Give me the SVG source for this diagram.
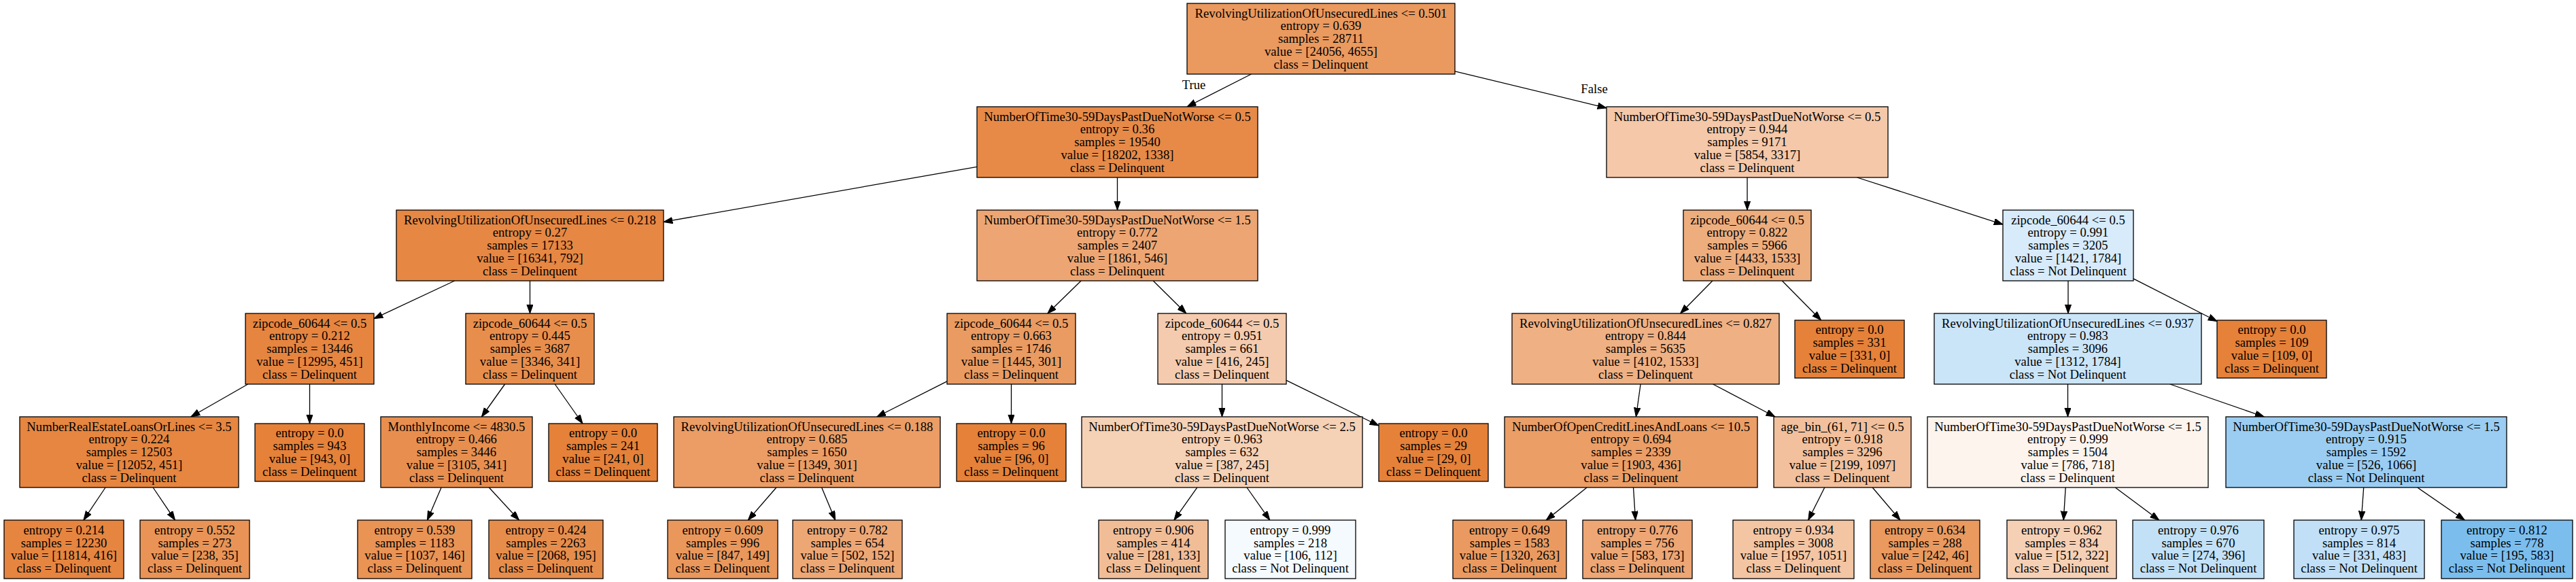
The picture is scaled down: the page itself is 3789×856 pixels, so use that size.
<svg xmlns="http://www.w3.org/2000/svg" width="3789" height="856" viewBox="0 0 3789 856">
<defs>
<style>
.b{stroke:#000;stroke-width:1.3}
.t{font-family:"Liberation Serif","Times New Roman",serif;font-size:18.67px;text-anchor:middle;fill:#000}
.e{stroke:#000;stroke-width:1.3;fill:none;marker-end:url(#ah)}
.lb{font-family:"Liberation Serif","Times New Roman",serif;font-size:18.67px;text-anchor:middle;fill:#000}
</style>
<marker id="ah" markerUnits="userSpaceOnUse" markerWidth="15" markerHeight="11" refX="13.3" refY="4.7" orient="auto">
<path d="M0,0 L13.3,4.7 L0,9.4 Z" fill="#000" stroke="#000" stroke-width="1"/>
</marker>
</defs>
<rect width="3789" height="856" fill="#fff"/>
<g id="edges">
<line class="e" x1="1840.5" y1="109" x2="1746" y2="157"/>
<line class="e" x1="2140" y1="104.8" x2="2363" y2="158.8"/>
<line class="e" x1="1437" y1="245.3" x2="976" y2="326.4"/>
<line class="e" x1="1643.5" y1="261" x2="1643.5" y2="309"/>
<line class="e" x1="2570" y1="261" x2="2570" y2="309"/>
<line class="e" x1="2731.5" y1="261" x2="2946" y2="330.1"/>
<line class="e" x1="668.7" y1="413" x2="550" y2="468.7"/>
<line class="e" x1="779.5" y1="413" x2="779.5" y2="461"/>
<line class="e" x1="1590.1" y1="413" x2="1540.9" y2="461"/>
<line class="e" x1="1696.2" y1="413" x2="1744.8" y2="461"/>
<line class="e" x1="2518.9" y1="413" x2="2471.6" y2="461"/>
<line class="e" x1="2621.3" y1="413" x2="2678.6" y2="471"/>
<line class="e" x1="3042" y1="413" x2="3042" y2="461"/>
<line class="e" x1="3138" y1="409.9" x2="3261" y2="472.5"/>
<line class="e" x1="364.7" y1="565" x2="280.8" y2="613"/>
<line class="e" x1="455.5" y1="565" x2="455.5" y2="623"/>
<line class="e" x1="742.6" y1="565" x2="708.4" y2="613"/>
<line class="e" x1="816.2" y1="565" x2="857" y2="623"/>
<line class="e" x1="1393" y1="560.8" x2="1289.8" y2="613"/>
<line class="e" x1="1487.5" y1="565" x2="1487.5" y2="623"/>
<line class="e" x1="1797.5" y1="565" x2="1797.5" y2="613"/>
<line class="e" x1="1892" y1="559.3" x2="2028" y2="626"/>
<line class="e" x1="2413.1" y1="565" x2="2406.4" y2="613"/>
<line class="e" x1="2519.5" y1="565" x2="2611" y2="613"/>
<line class="e" x1="3041.5" y1="565" x2="3041.5" y2="613"/>
<line class="e" x1="3191.7" y1="565" x2="3330.3" y2="613"/>
<line class="e" x1="155.1" y1="717" x2="122.9" y2="765"/>
<line class="e" x1="225.1" y1="717" x2="257.5" y2="765"/>
<line class="e" x1="649.1" y1="717" x2="628.5" y2="765"/>
<line class="e" x1="719.3" y1="717" x2="763.5" y2="765"/>
<line class="e" x1="1141.9" y1="717" x2="1100.3" y2="765"/>
<line class="e" x1="1208.6" y1="717" x2="1228.6" y2="765"/>
<line class="e" x1="1760.8" y1="717" x2="1726.9" y2="765"/>
<line class="e" x1="1834" y1="717" x2="1867.8" y2="765"/>
<line class="e" x1="2334.1" y1="717" x2="2274.2" y2="765"/>
<line class="e" x1="2402.5" y1="717" x2="2405.6" y2="765"/>
<line class="e" x1="2683.8" y1="717" x2="2659.7" y2="765"/>
<line class="e" x1="2754.2" y1="717" x2="2795" y2="765"/>
<line class="e" x1="3038.2" y1="717" x2="3035.2" y2="765"/>
<line class="e" x1="3111.3" y1="717" x2="3175.8" y2="765"/>
<line class="e" x1="3476.7" y1="717" x2="3473.2" y2="765"/>
<line class="e" x1="3555.8" y1="717" x2="3625.3" y2="765"/>
<text class="lb" x="1756" y="131">True</text>
<text class="lb" x="2345" y="137">False</text>
</g>
<g id="n0"><rect class="b" x="1746" y="5" width="394" height="104" fill="#ea995f"/><text class="t" y="25.5"><tspan x="1943">RevolvingUtilizationOfUnsecuredLines &lt;= 0.501</tspan><tspan x="1943" dy="18.75">entropy = 0.639</tspan><tspan x="1943" dy="18.75">samples = 28711</tspan><tspan x="1943" dy="18.75">value = [24056, 4655]</tspan><tspan x="1943" dy="18.75">class = Delinquent</tspan></text></g>
<g id="n1"><rect class="b" x="1437" y="157" width="413" height="104" fill="#e78a48"/><text class="t" y="177.5"><tspan x="1643.5">NumberOfTime30-59DaysPastDueNotWorse &lt;= 0.5</tspan><tspan x="1643.5" dy="18.75">entropy = 0.36</tspan><tspan x="1643.5" dy="18.75">samples = 19540</tspan><tspan x="1643.5" dy="18.75">value = [18202, 1338]</tspan><tspan x="1643.5" dy="18.75">class = Delinquent</tspan></text></g>
<g id="n2"><rect class="b" x="2363" y="157" width="414" height="104" fill="#f4c8a9"/><text class="t" y="177.5"><tspan x="2570">NumberOfTime30-59DaysPastDueNotWorse &lt;= 0.5</tspan><tspan x="2570" dy="18.75">entropy = 0.944</tspan><tspan x="2570" dy="18.75">samples = 9171</tspan><tspan x="2570" dy="18.75">value = [5854, 3317]</tspan><tspan x="2570" dy="18.75">class = Delinquent</tspan></text></g>
<g id="n3"><rect class="b" x="583" y="309" width="393" height="104" fill="#e68743"/><text class="t" y="329.5"><tspan x="779.5">RevolvingUtilizationOfUnsecuredLines &lt;= 0.218</tspan><tspan x="779.5" dy="18.75">entropy = 0.27</tspan><tspan x="779.5" dy="18.75">samples = 17133</tspan><tspan x="779.5" dy="18.75">value = [16341, 792]</tspan><tspan x="779.5" dy="18.75">class = Delinquent</tspan></text></g>
<g id="n4"><rect class="b" x="1437" y="309" width="413" height="104" fill="#eda673"/><text class="t" y="329.5"><tspan x="1643.5">NumberOfTime30-59DaysPastDueNotWorse &lt;= 1.5</tspan><tspan x="1643.5" dy="18.75">entropy = 0.772</tspan><tspan x="1643.5" dy="18.75">samples = 2407</tspan><tspan x="1643.5" dy="18.75">value = [1861, 546]</tspan><tspan x="1643.5" dy="18.75">class = Delinquent</tspan></text></g>
<g id="n5"><rect class="b" x="2476" y="309" width="188" height="104" fill="#eead7d"/><text class="t" y="329.5"><tspan x="2570">zipcode_60644 &lt;= 0.5</tspan><tspan x="2570" dy="18.75">entropy = 0.822</tspan><tspan x="2570" dy="18.75">samples = 5966</tspan><tspan x="2570" dy="18.75">value = [4433, 1533]</tspan><tspan x="2570" dy="18.75">class = Delinquent</tspan></text></g>
<g id="n6"><rect class="b" x="2946" y="309" width="192" height="104" fill="#d7ebfa"/><text class="t" y="329.5"><tspan x="3042">zipcode_60644 &lt;= 0.5</tspan><tspan x="3042" dy="18.75">entropy = 0.991</tspan><tspan x="3042" dy="18.75">samples = 3205</tspan><tspan x="3042" dy="18.75">value = [1421, 1784]</tspan><tspan x="3042" dy="18.75">class = Not Delinquent</tspan></text></g>
<g id="n7"><rect class="b" x="361" y="461" width="189" height="104" fill="#e68540"/><text class="t" y="481.5"><tspan x="455.5">zipcode_60644 &lt;= 0.5</tspan><tspan x="455.5" dy="18.75">entropy = 0.212</tspan><tspan x="455.5" dy="18.75">samples = 13446</tspan><tspan x="455.5" dy="18.75">value = [12995, 451]</tspan><tspan x="455.5" dy="18.75">class = Delinquent</tspan></text></g>
<g id="n8"><rect class="b" x="685" y="461" width="189" height="104" fill="#e88e4d"/><text class="t" y="481.5"><tspan x="779.5">zipcode_60644 &lt;= 0.5</tspan><tspan x="779.5" dy="18.75">entropy = 0.445</tspan><tspan x="779.5" dy="18.75">samples = 3687</tspan><tspan x="779.5" dy="18.75">value = [3346, 341]</tspan><tspan x="779.5" dy="18.75">class = Delinquent</tspan></text></g>
<g id="n9"><rect class="b" x="1393" y="461" width="189" height="104" fill="#ea9b62"/><text class="t" y="481.5"><tspan x="1487.5">zipcode_60644 &lt;= 0.5</tspan><tspan x="1487.5" dy="18.75">entropy = 0.663</tspan><tspan x="1487.5" dy="18.75">samples = 1746</tspan><tspan x="1487.5" dy="18.75">value = [1445, 301]</tspan><tspan x="1487.5" dy="18.75">class = Delinquent</tspan></text></g>
<g id="n10"><rect class="b" x="1703" y="461" width="189" height="104" fill="#f4cbae"/><text class="t" y="481.5"><tspan x="1797.5">zipcode_60644 &lt;= 0.5</tspan><tspan x="1797.5" dy="18.75">entropy = 0.951</tspan><tspan x="1797.5" dy="18.75">samples = 661</tspan><tspan x="1797.5" dy="18.75">value = [416, 245]</tspan><tspan x="1797.5" dy="18.75">class = Delinquent</tspan></text></g>
<g id="n11"><rect class="b" x="2224" y="461" width="393" height="104" fill="#efb083"/><text class="t" y="481.5"><tspan x="2420.5">RevolvingUtilizationOfUnsecuredLines &lt;= 0.827</tspan><tspan x="2420.5" dy="18.75">entropy = 0.844</tspan><tspan x="2420.5" dy="18.75">samples = 5635</tspan><tspan x="2420.5" dy="18.75">value = [4102, 1533]</tspan><tspan x="2420.5" dy="18.75">class = Delinquent</tspan></text></g>
<g id="n12"><rect class="b" x="2640" y="471" width="161" height="85" fill="#e58139"/><text class="t" y="491.4"><tspan x="2720.5">entropy = 0.0</tspan><tspan x="2720.5" dy="18.75">samples = 331</tspan><tspan x="2720.5" dy="18.75">value = [331, 0]</tspan><tspan x="2720.5" dy="18.75">class = Delinquent</tspan></text></g>
<g id="n13"><rect class="b" x="2845" y="461" width="393" height="104" fill="#cbe5f8"/><text class="t" y="481.5"><tspan x="3041.5">RevolvingUtilizationOfUnsecuredLines &lt;= 0.937</tspan><tspan x="3041.5" dy="18.75">entropy = 0.983</tspan><tspan x="3041.5" dy="18.75">samples = 3096</tspan><tspan x="3041.5" dy="18.75">value = [1312, 1784]</tspan><tspan x="3041.5" dy="18.75">class = Not Delinquent</tspan></text></g>
<g id="n14"><rect class="b" x="3261" y="471" width="161" height="85" fill="#e58139"/><text class="t" y="491.4"><tspan x="3341.5">entropy = 0.0</tspan><tspan x="3341.5" dy="18.75">samples = 109</tspan><tspan x="3341.5" dy="18.75">value = [109, 0]</tspan><tspan x="3341.5" dy="18.75">class = Delinquent</tspan></text></g>
<g id="n15"><rect class="b" x="29" y="613" width="322" height="104" fill="#e68640"/><text class="t" y="633.5"><tspan x="190">NumberRealEstateLoansOrLines &lt;= 3.5</tspan><tspan x="190" dy="18.75">entropy = 0.224</tspan><tspan x="190" dy="18.75">samples = 12503</tspan><tspan x="190" dy="18.75">value = [12052, 451]</tspan><tspan x="190" dy="18.75">class = Delinquent</tspan></text></g>
<g id="n16"><rect class="b" x="375" y="623" width="161" height="85" fill="#e58139"/><text class="t" y="643.4"><tspan x="455.5">entropy = 0.0</tspan><tspan x="455.5" dy="18.75">samples = 943</tspan><tspan x="455.5" dy="18.75">value = [943, 0]</tspan><tspan x="455.5" dy="18.75">class = Delinquent</tspan></text></g>
<g id="n17"><rect class="b" x="560" y="613" width="223" height="104" fill="#e88f4f"/><text class="t" y="633.5"><tspan x="671.5">MonthlyIncome &lt;= 4830.5</tspan><tspan x="671.5" dy="18.75">entropy = 0.466</tspan><tspan x="671.5" dy="18.75">samples = 3446</tspan><tspan x="671.5" dy="18.75">value = [3105, 341]</tspan><tspan x="671.5" dy="18.75">class = Delinquent</tspan></text></g>
<g id="n18"><rect class="b" x="807" y="623" width="160" height="85" fill="#e58139"/><text class="t" y="643.4"><tspan x="887">entropy = 0.0</tspan><tspan x="887" dy="18.75">samples = 241</tspan><tspan x="887" dy="18.75">value = [241, 0]</tspan><tspan x="887" dy="18.75">class = Delinquent</tspan></text></g>
<g id="n19"><rect class="b" x="991" y="613" width="392" height="104" fill="#eb9d65"/><text class="t" y="633.5"><tspan x="1187">RevolvingUtilizationOfUnsecuredLines &lt;= 0.188</tspan><tspan x="1187" dy="18.75">entropy = 0.685</tspan><tspan x="1187" dy="18.75">samples = 1650</tspan><tspan x="1187" dy="18.75">value = [1349, 301]</tspan><tspan x="1187" dy="18.75">class = Delinquent</tspan></text></g>
<g id="n20"><rect class="b" x="1407" y="623" width="161" height="85" fill="#e58139"/><text class="t" y="643.4"><tspan x="1487.5">entropy = 0.0</tspan><tspan x="1487.5" dy="18.75">samples = 96</tspan><tspan x="1487.5" dy="18.75">value = [96, 0]</tspan><tspan x="1487.5" dy="18.75">class = Delinquent</tspan></text></g>
<g id="n21"><rect class="b" x="1591" y="613" width="413" height="104" fill="#f5d1b6"/><text class="t" y="633.5"><tspan x="1797.5">NumberOfTime30-59DaysPastDueNotWorse &lt;= 2.5</tspan><tspan x="1797.5" dy="18.75">entropy = 0.963</tspan><tspan x="1797.5" dy="18.75">samples = 632</tspan><tspan x="1797.5" dy="18.75">value = [387, 245]</tspan><tspan x="1797.5" dy="18.75">class = Delinquent</tspan></text></g>
<g id="n22"><rect class="b" x="2028" y="623" width="161" height="85" fill="#e58139"/><text class="t" y="643.4"><tspan x="2108.5">entropy = 0.0</tspan><tspan x="2108.5" dy="18.75">samples = 29</tspan><tspan x="2108.5" dy="18.75">value = [29, 0]</tspan><tspan x="2108.5" dy="18.75">class = Delinquent</tspan></text></g>
<g id="n23"><rect class="b" x="2213" y="613" width="372" height="104" fill="#eb9e66"/><text class="t" y="633.5"><tspan x="2399">NumberOfOpenCreditLinesAndLoans &lt;= 10.5</tspan><tspan x="2399" dy="18.75">entropy = 0.694</tspan><tspan x="2399" dy="18.75">samples = 2339</tspan><tspan x="2399" dy="18.75">value = [1903, 436]</tspan><tspan x="2399" dy="18.75">class = Delinquent</tspan></text></g>
<g id="n24"><rect class="b" x="2609" y="613" width="202" height="104" fill="#f2c09c"/><text class="t" y="633.5"><tspan x="2710">age_bin_(61, 71] &lt;= 0.5</tspan><tspan x="2710" dy="18.75">entropy = 0.918</tspan><tspan x="2710" dy="18.75">samples = 3296</tspan><tspan x="2710" dy="18.75">value = [2199, 1097]</tspan><tspan x="2710" dy="18.75">class = Delinquent</tspan></text></g>
<g id="n25"><rect class="b" x="2835" y="613" width="413" height="104" fill="#fdf4ee"/><text class="t" y="633.5"><tspan x="3041.5">NumberOfTime30-59DaysPastDueNotWorse &lt;= 1.5</tspan><tspan x="3041.5" dy="18.75">entropy = 0.999</tspan><tspan x="3041.5" dy="18.75">samples = 1504</tspan><tspan x="3041.5" dy="18.75">value = [786, 718]</tspan><tspan x="3041.5" dy="18.75">class = Delinquent</tspan></text></g>
<g id="n26"><rect class="b" x="3274" y="613" width="413" height="104" fill="#9bcdf2"/><text class="t" y="633.5"><tspan x="3480.5">NumberOfTime30-59DaysPastDueNotWorse &lt;= 1.5</tspan><tspan x="3480.5" dy="18.75">entropy = 0.915</tspan><tspan x="3480.5" dy="18.75">samples = 1592</tspan><tspan x="3480.5" dy="18.75">value = [526, 1066]</tspan><tspan x="3480.5" dy="18.75">class = Not Delinquent</tspan></text></g>
<g id="n27"><rect class="b" x="6" y="765" width="176" height="86" fill="#e68540"/><text class="t" y="785.9"><tspan x="94">entropy = 0.214</tspan><tspan x="94" dy="18.75">samples = 12230</tspan><tspan x="94" dy="18.75">value = [11814, 416]</tspan><tspan x="94" dy="18.75">class = Delinquent</tspan></text></g>
<g id="n28"><rect class="b" x="206" y="765" width="161" height="86" fill="#e99456"/><text class="t" y="785.9"><tspan x="286.5">entropy = 0.552</tspan><tspan x="286.5" dy="18.75">samples = 273</tspan><tspan x="286.5" dy="18.75">value = [238, 35]</tspan><tspan x="286.5" dy="18.75">class = Delinquent</tspan></text></g>
<g id="n29"><rect class="b" x="526" y="765" width="168" height="86" fill="#e99355"/><text class="t" y="785.9"><tspan x="610">entropy = 0.539</tspan><tspan x="610" dy="18.75">samples = 1183</tspan><tspan x="610" dy="18.75">value = [1037, 146]</tspan><tspan x="610" dy="18.75">class = Delinquent</tspan></text></g>
<g id="n30"><rect class="b" x="719" y="765" width="168" height="86" fill="#e78d4c"/><text class="t" y="785.9"><tspan x="803">entropy = 0.424</tspan><tspan x="803" dy="18.75">samples = 2263</tspan><tspan x="803" dy="18.75">value = [2068, 195]</tspan><tspan x="803" dy="18.75">class = Delinquent</tspan></text></g>
<g id="n31"><rect class="b" x="982" y="765" width="162" height="86" fill="#ea975c"/><text class="t" y="785.9"><tspan x="1063">entropy = 0.609</tspan><tspan x="1063" dy="18.75">samples = 996</tspan><tspan x="1063" dy="18.75">value = [847, 149]</tspan><tspan x="1063" dy="18.75">class = Delinquent</tspan></text></g>
<g id="n32"><rect class="b" x="1166" y="765" width="161" height="86" fill="#eda775"/><text class="t" y="785.9"><tspan x="1246.5">entropy = 0.782</tspan><tspan x="1246.5" dy="18.75">samples = 654</tspan><tspan x="1246.5" dy="18.75">value = [502, 152]</tspan><tspan x="1246.5" dy="18.75">class = Delinquent</tspan></text></g>
<g id="n33"><rect class="b" x="1616" y="765" width="161" height="86" fill="#f1bd97"/><text class="t" y="785.9"><tspan x="1696.5">entropy = 0.906</tspan><tspan x="1696.5" dy="18.75">samples = 414</tspan><tspan x="1696.5" dy="18.75">value = [281, 133]</tspan><tspan x="1696.5" dy="18.75">class = Delinquent</tspan></text></g>
<g id="n34"><rect class="b" x="1802" y="765" width="192" height="86" fill="#f4fafe"/><text class="t" y="785.9"><tspan x="1898">entropy = 0.999</tspan><tspan x="1898" dy="18.75">samples = 218</tspan><tspan x="1898" dy="18.75">value = [106, 112]</tspan><tspan x="1898" dy="18.75">class = Not Delinquent</tspan></text></g>
<g id="n35"><rect class="b" x="2137" y="765" width="167" height="86" fill="#ea9a60"/><text class="t" y="785.9"><tspan x="2220.5">entropy = 0.649</tspan><tspan x="2220.5" dy="18.75">samples = 1583</tspan><tspan x="2220.5" dy="18.75">value = [1320, 263]</tspan><tspan x="2220.5" dy="18.75">class = Delinquent</tspan></text></g>
<g id="n36"><rect class="b" x="2328" y="765" width="161" height="86" fill="#eda674"/><text class="t" y="785.9"><tspan x="2408.5">entropy = 0.776</tspan><tspan x="2408.5" dy="18.75">samples = 756</tspan><tspan x="2408.5" dy="18.75">value = [583, 173]</tspan><tspan x="2408.5" dy="18.75">class = Delinquent</tspan></text></g>
<g id="n37"><rect class="b" x="2549" y="765" width="178" height="86" fill="#f3c5a3"/><text class="t" y="785.9"><tspan x="2638">entropy = 0.934</tspan><tspan x="2638" dy="18.75">samples = 3008</tspan><tspan x="2638" dy="18.75">value = [1957, 1051]</tspan><tspan x="2638" dy="18.75">class = Delinquent</tspan></text></g>
<g id="n38"><rect class="b" x="2751" y="765" width="161" height="86" fill="#ea995f"/><text class="t" y="785.9"><tspan x="2831.5">entropy = 0.634</tspan><tspan x="2831.5" dy="18.75">samples = 288</tspan><tspan x="2831.5" dy="18.75">value = [242, 46]</tspan><tspan x="2831.5" dy="18.75">class = Delinquent</tspan></text></g>
<g id="n39"><rect class="b" x="2952" y="765" width="161" height="86" fill="#f5d0b5"/><text class="t" y="785.9"><tspan x="3032.5">entropy = 0.962</tspan><tspan x="3032.5" dy="18.75">samples = 834</tspan><tspan x="3032.5" dy="18.75">value = [512, 322]</tspan><tspan x="3032.5" dy="18.75">class = Delinquent</tspan></text></g>
<g id="n40"><rect class="b" x="3137" y="765" width="193" height="86" fill="#c2e1f7"/><text class="t" y="785.9"><tspan x="3233.5">entropy = 0.976</tspan><tspan x="3233.5" dy="18.75">samples = 670</tspan><tspan x="3233.5" dy="18.75">value = [274, 396]</tspan><tspan x="3233.5" dy="18.75">class = Not Delinquent</tspan></text></g>
<g id="n41"><rect class="b" x="3374" y="765" width="192" height="86" fill="#c1e0f7"/><text class="t" y="785.9"><tspan x="3470">entropy = 0.975</tspan><tspan x="3470" dy="18.75">samples = 814</tspan><tspan x="3470" dy="18.75">value = [331, 483]</tspan><tspan x="3470" dy="18.75">class = Not Delinquent</tspan></text></g>
<g id="n42"><rect class="b" x="3591" y="765" width="193" height="86" fill="#7bbeee"/><text class="t" y="785.9"><tspan x="3687.5">entropy = 0.812</tspan><tspan x="3687.5" dy="18.75">samples = 778</tspan><tspan x="3687.5" dy="18.75">value = [195, 583]</tspan><tspan x="3687.5" dy="18.75">class = Not Delinquent</tspan></text></g>
</svg>
